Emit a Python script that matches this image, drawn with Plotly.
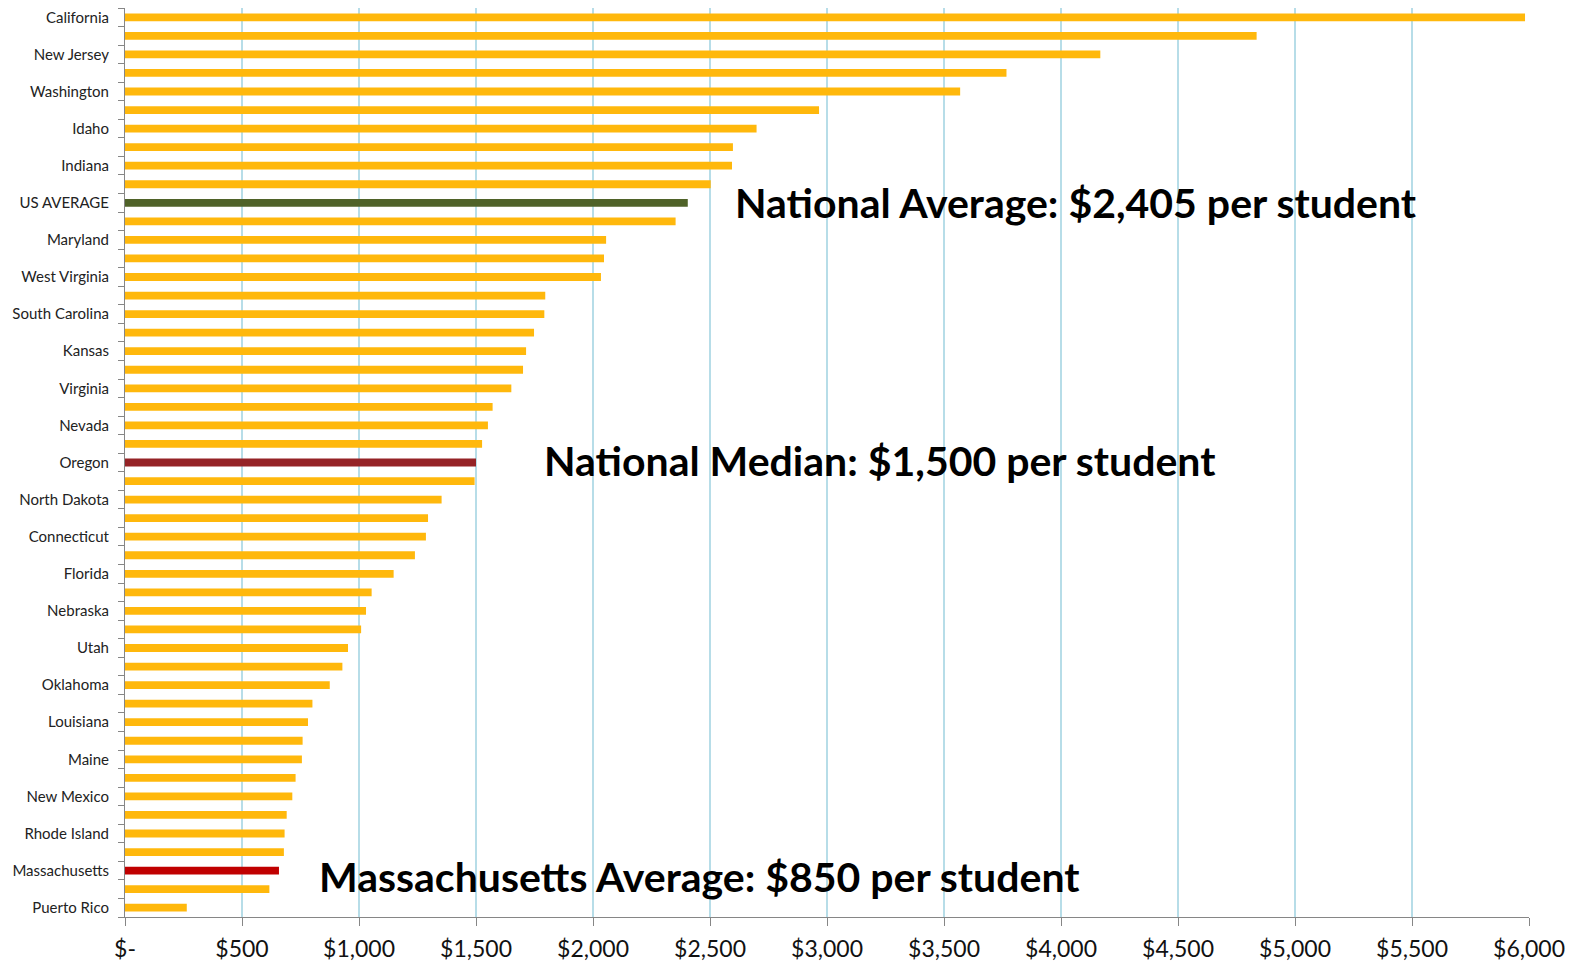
import plotly.graph_objects as go

labels = ["California", None, "New Jersey", None, "Washington", None, "Idaho", None,
          "Indiana", None, "US AVERAGE", None, "Maryland", None, "West Virginia", None,
          "South Carolina", None, "Kansas", None, "Virginia", None, "Nevada", None,
          "Oregon", None, "North Dakota", None, "Connecticut", None, "Florida", None,
          "Nebraska", None, "Utah", None, "Oklahoma", None, "Louisiana", None,
          "Maine", None, "New Mexico", None, "Rhode Island", None, "Massachusetts", None,
          "Puerto Rico"]

values = [5983, 4836, 4168, 3767, 3569, 2966, 2699, 2598, 2594, 2503,
          2405, 2353, 2056, 2047, 2034, 1796, 1792, 1748, 1714, 1701,
          1651, 1571, 1551, 1526, 1500, 1494, 1353, 1295, 1286, 1239,
          1148, 1054, 1030, 1009, 953, 929, 875, 801, 782, 759,
          756, 729, 715, 691, 682, 679, 658, 617, 264]

x_ticks = [0, 500, 1000, 1500, 2000, 2500, 3000, 3500, 4000, 4500, 5000, 5500, 6000]
x_ticktext = ["$-" if v == 0 else f"${v:,}" for v in x_ticks]

notes = [
    ("National Average: $2,405 per student", "US AVERAGE", 2600, 0),
    ("National Median: $1,500 per student", "Oregon", 1780, 2),
    ("Massachusetts Average: $850 per student", "Massachusetts", 822, -6),
]

BASE = "#FFB80C"
highlight = {"US AVERAGE": "#4F6228", "Oregon": "#952326", "Massachusetts": "#C00000"}

keys = [f"r{i}" for i in range(len(values))]
ticktext = [l if l else "" for l in labels]
colors = [highlight.get(l, BASE) for l in labels]

fig = go.Figure(go.Bar(
    x=values, y=keys, orientation="h",
    marker=dict(color=colors, line=dict(width=0)),
    hoverinfo="skip",
))

FONT = "Lato"
fig.update_layout(
    width=1581, height=964,
    margin=dict(l=117, r=60, t=0, b=55, autoexpand=False),
    paper_bgcolor="white", plot_bgcolor="white",
    bargap=0.58, showlegend=False,
    font=dict(family=FONT, color="#222222"),
)
fig.update_xaxes(
    range=[0, 6000], tickmode="array", tickvals=x_ticks, ticktext=x_ticktext,
    showgrid=True, gridcolor="#B7DDE8", gridwidth=1.5,
    showline=True, linecolor="#868686", linewidth=1,
    ticks="outside", ticklen=8, tickcolor="#868686",
    tickfont=dict(size=23, family=FONT, color="#111111"),
    ticklabelstandoff=3, zeroline=False, automargin=False,
)
fig.update_yaxes(
    type="category", categoryorder="array", categoryarray=keys, autorange="reversed",
    tickmode="array", tickvals=keys, ticktext=ticktext,
    tickson="boundaries", ticks="outside", ticklen=6, tickcolor="#868686",
    showline=True, linecolor="#868686", linewidth=1, showgrid=False,
    tickfont=dict(size=15, family=FONT, color="#222222"),
    ticklabelstandoff=12, automargin=False,
)

for text, lab, xpos, ys in notes:
    fig.add_annotation(
        x=xpos, y=keys[labels.index(lab)], xref="x", yref="y",
        text=f"<b>{text}</b>", showarrow=False, xanchor="left", yanchor="middle",
        yshift=ys, font=dict(family=FONT, size=41, color="#000000"),
    )

fig.write_html("out.html")
